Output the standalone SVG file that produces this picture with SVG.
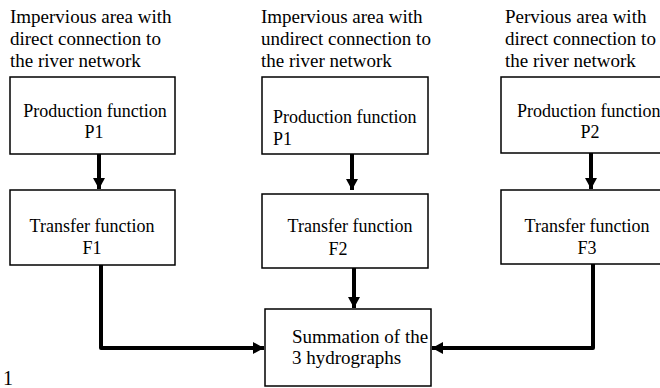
<svg xmlns="http://www.w3.org/2000/svg" width="660" height="388" viewBox="0 0 660 388">
<style>
text{font-family:"Liberation Serif","Times New Roman",serif;fill:#000}
.h{font-size:19px}
.b{font-size:18px}
.s{font-size:19px}
rect{fill:#fff;stroke:#000;stroke-width:1.5}
.c{fill:none;stroke:#000;stroke-width:4}
</style>
<defs>
<marker id="ah" markerWidth="12" markerHeight="12" refX="11" refY="6" orient="auto" markerUnits="userSpaceOnUse">
<path d="M0,0 L11,6 L0,12 Z" fill="#000"/>
</marker>
</defs>
<rect x="-1" y="-1" width="662" height="390" style="stroke:none;fill:#fff"/>
<g id="head1">
<text class="h" x="10" y="23">Impervious area with</text>
<text class="h" x="10" y="45">direct connection to</text>
<text class="h" x="10" y="67">the river network</text>
</g>
<g id="head2">
<text class="h" x="261" y="23">Impervious area with</text>
<text class="h" x="261" y="45">undirect connection to</text>
<text class="h" x="261" y="67">the river network</text>
</g>
<g id="head3">
<text class="h" x="505" y="23">Pervious area with</text>
<text class="h" x="505" y="45">direct connection to</text>
<text class="h" x="505" y="67">the river network</text>
</g>
<g id="p1a">
<rect x="10" y="77" width="165" height="77"/>
<text class="b" x="95" y="117" text-anchor="middle">Production function</text>
<text class="b" x="94" y="138" text-anchor="middle">P1</text>
</g>
<g id="f1">
<rect x="10" y="190" width="165" height="75"/>
<text class="b" x="92" y="232" text-anchor="middle">Transfer function</text>
<text class="b" x="92" y="254" text-anchor="middle">F1</text>
</g>
<g id="p1b">
<rect x="262" y="77" width="166" height="77"/>
<text class="b" x="273" y="123">Production function</text>
<text class="b" x="273" y="145">P1</text>
</g>
<g id="f2">
<rect x="262" y="194" width="166" height="74"/>
<text class="b" x="350" y="232" text-anchor="middle">Transfer function</text>
<text class="b" x="338" y="255" text-anchor="middle">F2</text>
</g>
<g id="p2">
<rect x="501" y="77" width="170" height="76"/>
<text class="b" x="517" y="117">Production function</text>
<text class="b" x="590" y="138" text-anchor="middle">P2</text>
</g>
<g id="f3">
<rect x="501" y="190" width="170" height="74"/>
<text class="b" x="587" y="232" text-anchor="middle">Transfer function</text>
<text class="b" x="587" y="254" text-anchor="middle">F3</text>
</g>
<g id="sum">
<rect x="265" y="309" width="166" height="77"/>
<text class="s" x="292" y="343">Summation of the</text>
<text class="s" x="292" y="364">3 hydrographs</text>
</g>
<g id="connectors">
<path class="c" d="M99,154 V189" marker-end="url(#ah)"/>
<path class="c" d="M352,154 V190" marker-end="url(#ah)"/>
<path class="c" d="M591,153 V189" marker-end="url(#ah)"/>
<path class="c" d="M101,265 V348 H264" marker-end="url(#ah)" stroke-linejoin="round"/>
<path class="c" d="M354,268 V308" marker-end="url(#ah)"/>
<path class="c" d="M593,264 V348 H432" marker-end="url(#ah)" stroke-linejoin="round"/>
</g>
<text x="3" y="385" style="font-size:20px">1</text>
</svg>
